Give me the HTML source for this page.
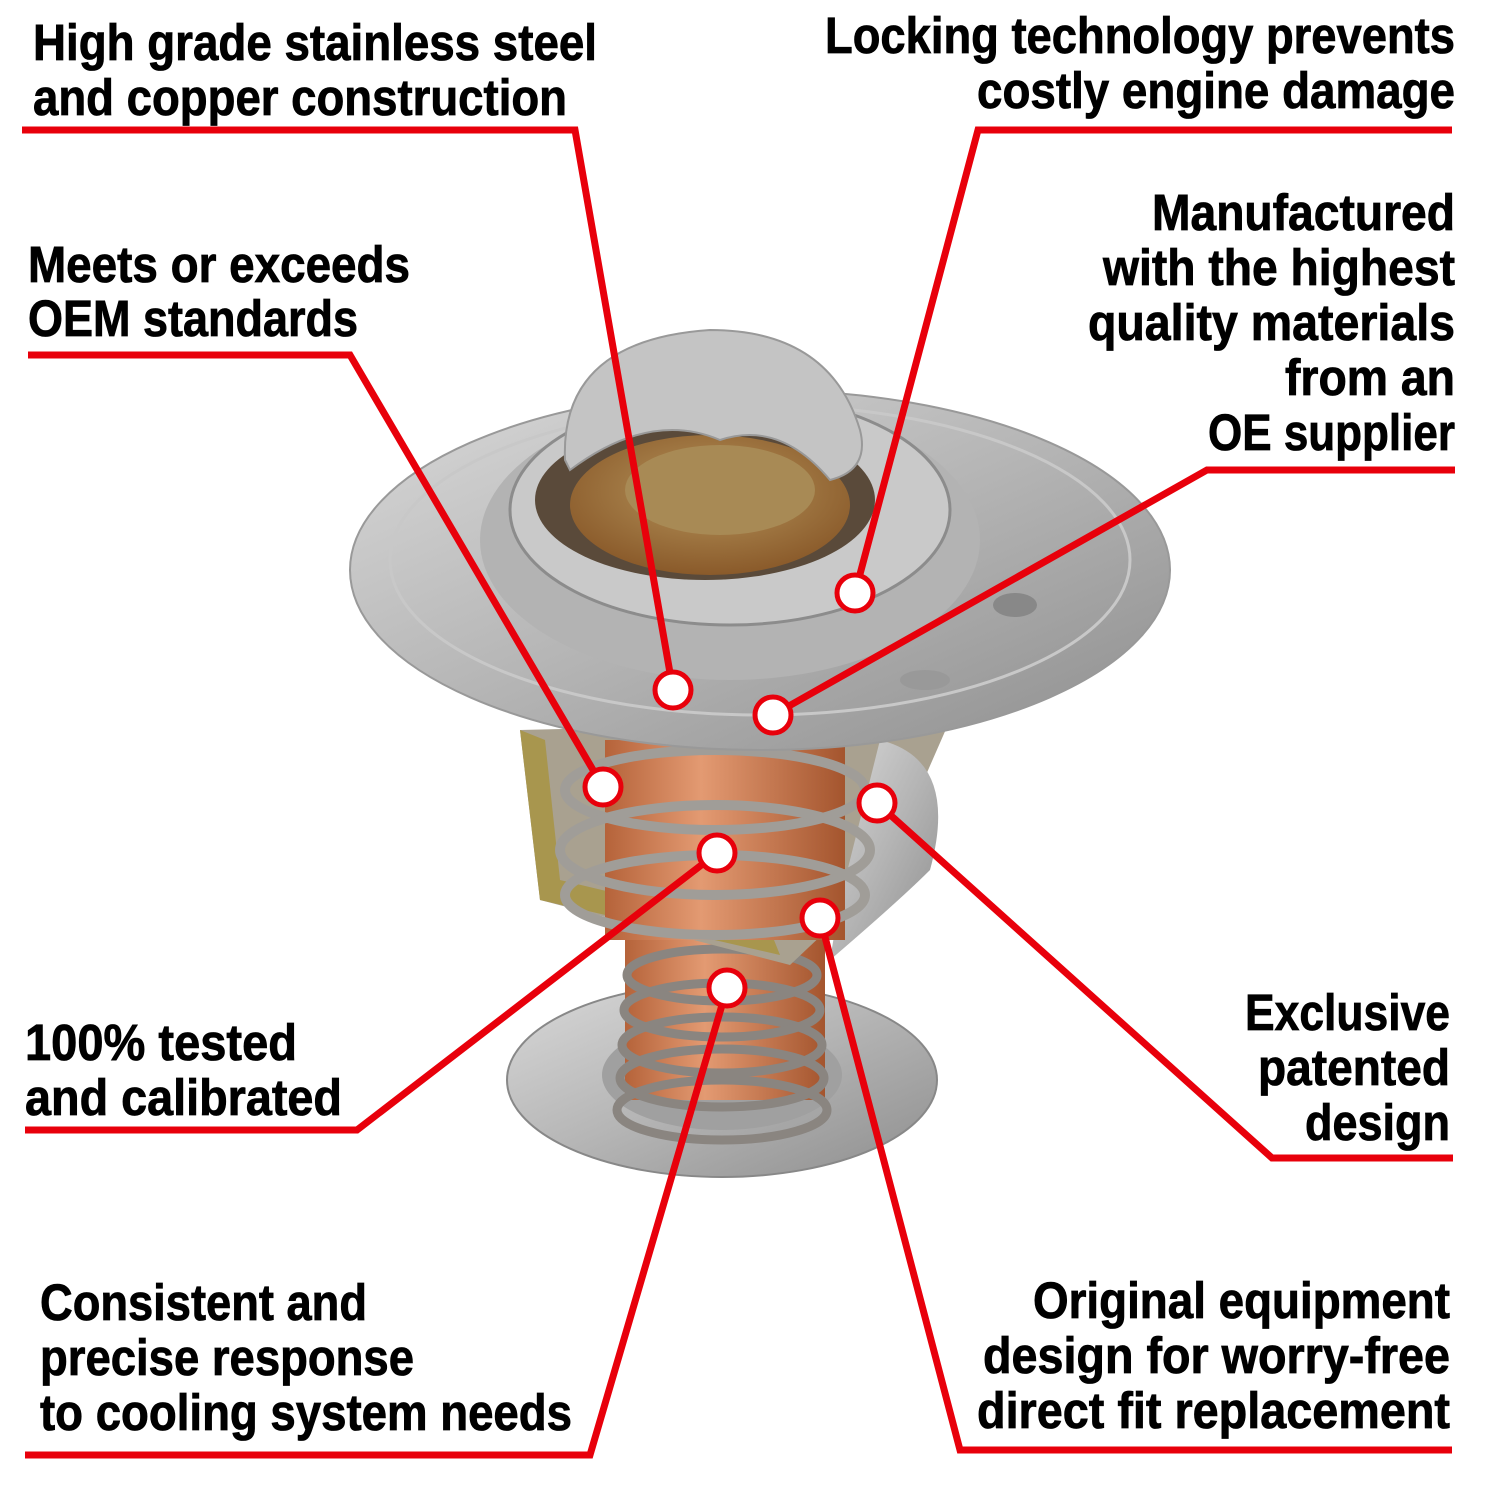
<!DOCTYPE html>
<html><head><meta charset="utf-8"><style>
html,body{margin:0;padding:0;background:#fff;}
svg{display:block}
text{font-family:"Liberation Sans Narrow","Liberation Sans",sans-serif;font-weight:bold;font-size:51px;fill:#000;stroke:#000;stroke-width:0.8px;}
</style></head><body>
<svg width="1500" height="1500" viewBox="0 0 1500 1500" xmlns="http://www.w3.org/2000/svg">
<defs>
<linearGradient id="steel" x1="0" y1="0" x2="1" y2="1">
<stop offset="0" stop-color="#d9d9d9"/><stop offset="0.5" stop-color="#b5b5b5"/><stop offset="1" stop-color="#8e8e8e"/></linearGradient>
<linearGradient id="copper" x1="0" y1="0" x2="1" y2="0">
<stop offset="0" stop-color="#b5633a"/><stop offset="0.4" stop-color="#e39a72"/><stop offset="1" stop-color="#a4552e"/></linearGradient>
<radialGradient id="brass" cx="0.5" cy="0.4" r="0.6">
<stop offset="0" stop-color="#b6955c"/><stop offset="1" stop-color="#8a5a2a"/></radialGradient>
</defs>
<ellipse cx="722" cy="1080" rx="215" ry="97" fill="url(#steel)" stroke="#888" stroke-width="2"/>
<ellipse cx="722" cy="1075" rx="120" ry="55" fill="#a0a0a0"/>
<rect x="625" y="930" width="200" height="170" fill="url(#copper)"/>
<g fill="none" stroke="#8a8580" stroke-width="9">
<ellipse cx="722" cy="1110" rx="105" ry="30"/>
<ellipse cx="722" cy="1078" rx="102" ry="29"/>
<ellipse cx="722" cy="1045" rx="100" ry="28"/>
<ellipse cx="722" cy="1010" rx="98" ry="27"/>
<ellipse cx="722" cy="975" rx="95" ry="26"/>
</g>
<path d="M520 730 L540 900 L790 965 L880 880 L950 720 Z" fill="#a9a190"/>
<path d="M880 740 Q960 760 930 870 Q900 900 830 960 L840 900 Z" fill="url(#steel)"/>
<path d="M520 730 L540 900 L780 955 L770 930 L560 880 L545 740 Z" fill="#a8964e"/>
<rect x="605" y="740" width="240" height="200" fill="url(#copper)"/>
<g fill="none" stroke="#a09d98" stroke-width="10">
<ellipse cx="715" cy="790" rx="150" ry="40"/>
<ellipse cx="715" cy="850" rx="155" ry="45"/>
<ellipse cx="715" cy="895" rx="150" ry="40"/>
</g>
<ellipse cx="760" cy="570" rx="410" ry="180" fill="url(#steel)" stroke="#999" stroke-width="2"/>
<ellipse cx="760" cy="560" rx="370" ry="155" fill="none" stroke="#c8c8c8" stroke-width="3"/>
<ellipse cx="730" cy="540" rx="250" ry="140" fill="#b3b3b3"/>
<ellipse cx="730" cy="510" rx="220" ry="115" fill="#c9c9c9" stroke="#8c8c8c" stroke-width="3"/>
<ellipse cx="705" cy="500" rx="170" ry="80" fill="#5a4a3a"/>
<ellipse cx="710" cy="505" rx="140" ry="70" fill="url(#brass)"/>
<ellipse cx="720" cy="490" rx="95" ry="45" fill="#a88a55"/>
<path d="M565 460 Q560 340 710 330 Q830 330 860 430 Q870 470 830 480 Q780 420 720 440 Q650 410 570 470 Z" fill="#c4c4c4" stroke="#999" stroke-width="2"/>
<ellipse cx="1015" cy="605" rx="22" ry="12" fill="#888"/>
<ellipse cx="925" cy="680" rx="25" ry="10" fill="#999"/>
<g fill="none" stroke="#e8000b" stroke-width="7" stroke-linejoin="miter">
<polyline points="22,130 575,130 673,690"/>
<polyline points="1452,130 978,130 855,593"/>
<polyline points="28,355 350,355 603,787"/>
<polyline points="1455,470 1207,470 773,715"/>
<polyline points="25,1130 357,1130 717,853"/>
<polyline points="1453,1158 1272,1158 877,803"/>
<polyline points="25,1455 590,1455 727,988"/>
<polyline points="1452,1450 960,1450 820,918"/>
</g>
<g fill="#fff" stroke="#e8000b" stroke-width="5">
<circle cx="673" cy="690" r="18"/><circle cx="855" cy="593" r="18"/>
<circle cx="603" cy="787" r="18"/><circle cx="773" cy="715" r="18"/>
<circle cx="717" cy="853" r="18"/><circle cx="877" cy="803" r="18"/>
<circle cx="727" cy="988" r="18"/><circle cx="820" cy="918" r="18"/>
</g>
<text x="33" y="60" textLength="564" lengthAdjust="spacingAndGlyphs">High grade stainless steel</text>
<text x="33" y="115" textLength="534" lengthAdjust="spacingAndGlyphs">and copper construction</text>
<text x="1455" y="53" text-anchor="end" textLength="630" lengthAdjust="spacingAndGlyphs">Locking technology prevents</text>
<text x="1455" y="108" text-anchor="end" textLength="478" lengthAdjust="spacingAndGlyphs">costly engine damage</text>
<text x="28" y="282" textLength="382" lengthAdjust="spacingAndGlyphs">Meets or exceeds</text>
<text x="28" y="336" textLength="330" lengthAdjust="spacingAndGlyphs">OEM standards</text>
<text x="1455" y="230" text-anchor="end" textLength="303" lengthAdjust="spacingAndGlyphs">Manufactured</text>
<text x="1455" y="285" text-anchor="end" textLength="352" lengthAdjust="spacingAndGlyphs">with the highest</text>
<text x="1455" y="340" text-anchor="end" textLength="367" lengthAdjust="spacingAndGlyphs">quality materials</text>
<text x="1455" y="395" text-anchor="end" textLength="170" lengthAdjust="spacingAndGlyphs">from an</text>
<text x="1455" y="450" text-anchor="end" textLength="247" lengthAdjust="spacingAndGlyphs">OE supplier</text>
<text x="25" y="1060" textLength="272" lengthAdjust="spacingAndGlyphs">100% tested</text>
<text x="25" y="1115" textLength="317" lengthAdjust="spacingAndGlyphs">and calibrated</text>
<text x="1450" y="1030" text-anchor="end" textLength="205" lengthAdjust="spacingAndGlyphs">Exclusive</text>
<text x="1450" y="1085" text-anchor="end" textLength="192" lengthAdjust="spacingAndGlyphs">patented</text>
<text x="1450" y="1140" text-anchor="end" textLength="145" lengthAdjust="spacingAndGlyphs">design</text>
<text x="40" y="1320" textLength="327" lengthAdjust="spacingAndGlyphs">Consistent and</text>
<text x="40" y="1375" textLength="374" lengthAdjust="spacingAndGlyphs">precise response</text>
<text x="40" y="1430" textLength="532" lengthAdjust="spacingAndGlyphs">to cooling system needs</text>
<text x="1450" y="1318" text-anchor="end" textLength="417" lengthAdjust="spacingAndGlyphs">Original equipment</text>
<text x="1450" y="1373" text-anchor="end" textLength="467" lengthAdjust="spacingAndGlyphs">design for worry-free</text>
<text x="1450" y="1428" text-anchor="end" textLength="473" lengthAdjust="spacingAndGlyphs">direct fit replacement</text>
</svg>
</body></html>
